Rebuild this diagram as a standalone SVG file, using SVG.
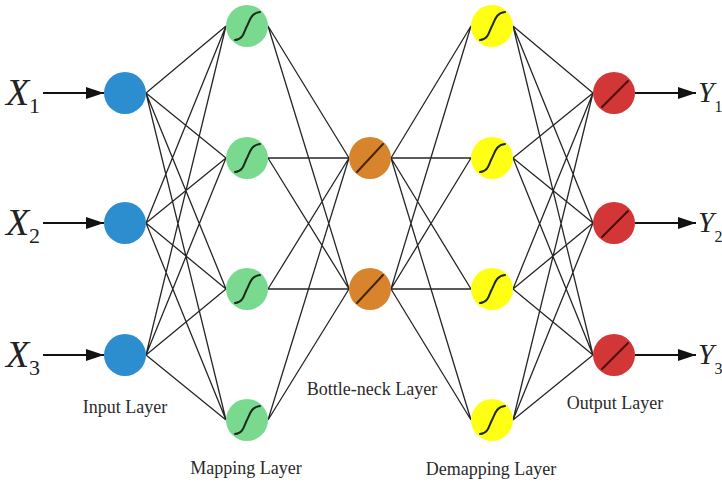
<svg xmlns="http://www.w3.org/2000/svg" xmlns:xlink="http://www.w3.org/1999/xlink" width="722" height="482" viewBox="0 0 722 482">
<style>
.conn{fill:none;stroke:#262626;stroke-width:1.3}
.arr{fill:none;stroke:#111;stroke-width:1.8}
.inp{fill:#2c8ecf}
.map{fill:#78d98f}
.bot{fill:#d7842d}
.dem{fill:#ffff14}
.out{fill:#d33636}
.sig{fill:none;stroke:#1c2a1c;stroke-width:2;stroke-linecap:round}
.lin{fill:none;stroke-width:2;stroke-linecap:round}
.var{font-family:"Liberation Serif","Times New Roman",serif;font-style:italic;fill:#222}
.sub{font-family:"Liberation Serif","Times New Roman",serif;fill:#222}
.lbl{font-family:"Liberation Serif","Times New Roman",serif;font-size:18px;fill:#2a2a2a;text-anchor:middle}
</style>
<defs>
<marker id="ah" viewBox="0 0 18 12" refX="18" refY="6" markerWidth="18" markerHeight="12" markerUnits="userSpaceOnUse" orient="auto">
<path d="M0,0 L18,6 L0,12 Z" fill="#111"/>
</marker>
<path id="sigc" d="M-12,14 C-3,13 -3,5 0,0 C3,-6 4,-13 13,-14"/>
</defs>
<rect width="722" height="482" fill="#fff"/>
<g id="connectors">
<path class="conn" d="M146 93L226 26M146 93L226 158M146 93L226 289M146 93L226 420M146 223L226 26M146 223L226 158M146 223L226 289M146 223L226 420M146 355L226 26M146 355L226 158M146 355L226 289M146 355L226 420"/>
<path class="conn" d="M268 26L349 158M268 26L349 289M268 158L349 158M268 158L349 289M268 289L349 158M268 289L349 289M268 420L349 158M268 420L349 289"/>
<path class="conn" d="M391 158L471 26M391 158L471 158M391 158L471 289M391 158L471 420M391 289L471 26M391 289L471 158M391 289L471 289M391 289L471 420"/>
<path class="conn" d="M513 26L593 93M513 26L593 223M513 26L593 355M513 158L593 93M513 158L593 223M513 158L593 355M513 289L593 93M513 289L593 223M513 289L593 355M513 420L593 93M513 420L593 223M513 420L593 355"/>
<path class="arr" marker-end="url(#ah)" d="M43 93H104"/>
<path class="arr" marker-end="url(#ah)" d="M43 223H104"/>
<path class="arr" marker-end="url(#ah)" d="M43 355H104"/>
<path class="arr" marker-end="url(#ah)" d="M635 93H696"/>
<path class="arr" marker-end="url(#ah)" d="M635 223H696"/>
<path class="arr" marker-end="url(#ah)" d="M635 355H696"/>
</g>
<g id="x1"><text class="var" x="6" y="105" font-size="38">X</text><text class="sub" x="29" y="113" font-size="22">1</text></g>
<g id="x2"><text class="var" x="6" y="235" font-size="38">X</text><text class="sub" x="29" y="243" font-size="22">2</text></g>
<g id="x3"><text class="var" x="6" y="367" font-size="38">X</text><text class="sub" x="29" y="375" font-size="22">3</text></g>
<g id="y1"><text class="var" x="698" y="102" font-size="29">Y</text><text class="sub" x="714.5" y="112" font-size="16">1</text></g>
<g id="y2"><text class="var" x="698" y="232" font-size="29">Y</text><text class="sub" x="714.5" y="242" font-size="16">2</text></g>
<g id="y3"><text class="var" x="698" y="364" font-size="29">Y</text><text class="sub" x="714.5" y="374" font-size="16">3</text></g>
<g id="in1"><circle class="inp" cx="125" cy="93" r="21"/></g>
<g id="in2"><circle class="inp" cx="125" cy="223" r="21"/></g>
<g id="in3"><circle class="inp" cx="125" cy="355" r="21"/></g>
<g id="map1"><circle class="map" cx="247" cy="26" r="21"/><use href="#sigc" class="sig" x="247" y="26"/></g>
<g id="map2"><circle class="map" cx="247" cy="158" r="21"/><use href="#sigc" class="sig" x="247" y="158"/></g>
<g id="map3"><circle class="map" cx="247" cy="289" r="21"/><use href="#sigc" class="sig" x="247" y="289"/></g>
<g id="map4"><circle class="map" cx="247" cy="420" r="21"/><use href="#sigc" class="sig" x="247" y="420"/></g>
<g id="bot1"><circle class="bot" cx="370" cy="158" r="21"/><path class="lin" stroke="#4a2408" d="M357,172 L383,144"/></g>
<g id="bot2"><circle class="bot" cx="370" cy="289" r="21"/><path class="lin" stroke="#4a2408" d="M357,303 L383,275"/></g>
<g id="dem1"><circle class="dem" cx="492" cy="26" r="21"/><use href="#sigc" class="sig" x="492" y="26"/></g>
<g id="dem2"><circle class="dem" cx="492" cy="158" r="21"/><use href="#sigc" class="sig" x="492" y="158"/></g>
<g id="dem3"><circle class="dem" cx="492" cy="289" r="21"/><use href="#sigc" class="sig" x="492" y="289"/></g>
<g id="dem4"><circle class="dem" cx="492" cy="420" r="21"/><use href="#sigc" class="sig" x="492" y="420"/></g>
<g id="out1"><circle class="out" cx="614" cy="93" r="21"/><path class="lin" stroke="#4a0c0c" d="M602,107 L628,81"/></g>
<g id="out2"><circle class="out" cx="614" cy="223" r="21"/><path class="lin" stroke="#4a0c0c" d="M602,237 L628,211"/></g>
<g id="out3"><circle class="out" cx="614" cy="355" r="21"/><path class="lin" stroke="#4a0c0c" d="M602,369 L628,343"/></g>
<g id="labels">
<text class="lbl" x="125" y="413">Input Layer</text>
<text class="lbl" x="246" y="474">Mapping Layer</text>
<text class="lbl" x="372" y="395">Bottle-neck Layer</text>
<text class="lbl" x="491" y="475">Demapping Layer</text>
<text class="lbl" x="615" y="409">Output Layer</text>
</g>
</svg>
